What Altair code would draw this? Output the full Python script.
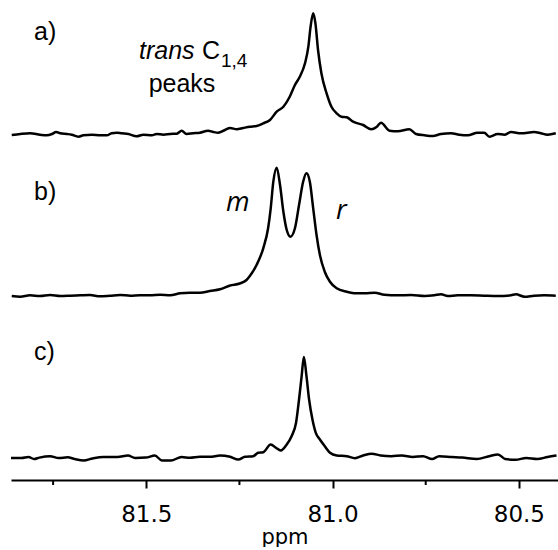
import altair as alt
import pandas as pd

# ---- data (ppm, intensity above baseline, arbitrary units) ----
a_ppm = [81.861, 81.838, 81.812, 81.785, 81.767, 81.753, 81.742, 81.731, 81.713, 81.700,
         81.682, 81.669, 81.646, 81.624, 81.606, 81.593, 81.579, 81.566, 81.548, 81.526,
         81.508, 81.485, 81.472, 81.454, 81.436, 81.418, 81.405, 81.392, 81.374, 81.356,
         81.334, 81.320, 81.307, 81.289, 81.275, 81.257, 81.240, 81.222, 81.204, 81.186,
         81.168, 81.150, 81.132, 81.115, 81.101, 81.088, 81.074, 81.065, 81.059, 81.052,
         81.046, 81.039, 81.030, 81.016, 81.003, 80.989, 80.976, 80.962, 80.945, 80.918,
         80.896, 80.882, 80.870, 80.847, 80.825, 80.794, 80.776, 80.753, 80.731, 80.709,
         80.682, 80.660, 80.637, 80.611, 80.593, 80.579, 80.557, 80.539, 80.521, 80.494,
         80.459, 80.441, 80.423, 80.401]
a_int = [0, 1, 1.7, 0.3, -0.3, 1, 3, 1.7, 1, 0.3,
         -1.7, -0.3, 0.3, -0.3, -0.3, 1.7, 2.3, 1.7, 1, -1.3,
         0.3, -0.3, 1, 0.3, 1, 1.3, 4.3, 1, 1.7, 2.3,
         4.3, 3, 2.3, 5, 7, 5.7, 7, 8.3, 9, 11.7,
         15, 23.3, 28.3, 38.3, 50, 58.3, 71.7, 88.3, 108.3, 121.7,
         111.7, 85, 61.7, 41.7, 28.3, 21.7, 18.3, 17.7, 13.3, 10,
         5.7, 8, 12.3, 4.3, 3.7, 5.7, 1, -0.3, -1, 1,
         1.7, 0.3, -0.3, 2.3, 2.3, -1.7, 1, 0.3, 3, 1.7,
         3, 1.7, 0.3, 1.7]

b_ppm = [81.861, 81.838, 81.812, 81.785, 81.758, 81.731, 81.704, 81.677, 81.651, 81.624,
         81.597, 81.570, 81.543, 81.517, 81.490, 81.463, 81.436, 81.409, 81.383, 81.356,
         81.329, 81.302, 81.275, 81.249, 81.231, 81.222, 81.204, 81.186, 81.173, 81.166,
         81.159, 81.150, 81.141, 81.132, 81.123, 81.113, 81.101, 81.090, 81.079, 81.070,
         81.061, 81.052, 81.043, 81.034, 81.021, 81.007, 80.989, 80.962, 80.936, 80.914,
         80.887, 80.861, 80.825, 80.789, 80.753, 80.727, 80.709, 80.691, 80.664, 80.628,
         80.593, 80.557, 80.521, 80.508, 80.485, 80.459, 80.432, 80.401]
b_int = [0, -0.7, 0.7, 0, 1, 0, 0.3, 0.7, 1, -0.3,
         0.3, 1, 0.3, 0.7, 0.7, 1.3, 0.8, 2.7, 3.3, 3.3,
         5, 6.7, 10.5, 12.5, 16, 20, 31, 47.7, 67.7, 87.7,
         114.3, 128.3, 111, 84.3, 66, 59.3, 67.7, 91, 114.3, 122.7,
         114.3, 87.7, 61, 41, 24.3, 14.3, 7.7, 4.3, 2.7, 2.7,
         3.3, 1.3, 0.7, 1, 0, 0.7, 1.7, 0, 0.7, 0.7,
         0.3, 0, 0.7, 1.7, -0.7, 0.3, 0.7, 0.3]

c_ppm = [81.863, 81.835, 81.816, 81.801, 81.787, 81.758, 81.735, 81.711, 81.692, 81.668,
         81.644, 81.615, 81.577, 81.549, 81.530, 81.501, 81.477, 81.458, 81.434, 81.405,
         81.383, 81.356, 81.329, 81.302, 81.275, 81.253, 81.235, 81.213, 81.200, 81.186,
         81.166, 81.152, 81.139, 81.123, 81.110, 81.098, 81.090, 81.083, 81.077, 81.070,
         81.063, 81.054, 81.045, 81.034, 81.021, 81.007, 80.989, 80.962, 80.940, 80.918,
         80.895, 80.871, 80.842, 80.814, 80.785, 80.757, 80.733, 80.714, 80.680, 80.652,
         80.613, 80.580, 80.556, 80.537, 80.509, 80.480, 80.451, 80.423, 80.399]
c_int = [0, 0, 1, -1, 0.4, 1.8, 0, 0.7, -1, -2.5,
         -0.4, 1, 1, 2.5, 0, 0.4, 2.5, -2.5, -2.5, 1,
         0.2, 1.2, 1.2, 2.5, 1.2, -1.5, 1.2, 1.8, 5.2, 5.8,
         13.5, 10.2, 7.5, 13.5, 21.8, 35.2, 58.5, 81.8, 101, 81.8,
         58.5, 38.5, 25.2, 18.5, 11.8, 5.2, 2.5, 1.8, -0.2, 2.5,
         4.3, 2.5, 1.8, 2.5, 1, 1.8, -1, 1.8, 1, 0.4,
         -1, 1.8, 3.6, -1, -1.8, 0, -1, 1, 2.5]

panel_labels = ["a)", "b)", "c)"]
major_ticks = [81.5, 81.0, 80.5]
minor_ticks = [81.75, 81.25, 80.75]
annot_word = ["trans"]
annot_nucleus = ["C"]
annot_sub = ["1,4"]
annot_line2 = ["peaks"]
tacticity = ["m", "r"]

# ---- layout ----
W, H = 547, 160
X_DOMAIN = [80.395, 81.863]
xscale = alt.Scale(domain=X_DOMAIN, reverse=True, nice=False, zero=False)


def txt(values, x, y, size, font="Liberation Sans", style="normal", align="left"):
    return alt.Chart(pd.DataFrame({"t": values})).mark_text(
        font=font, fontSize=size, fontStyle=style, align=align,
        baseline="alphabetic", color="black"
    ).encode(x=alt.value(x), y=alt.value(y), text="t:N")


def panel(ppm, inten, label, ydom, show_axis, extra):
    df = pd.DataFrame({"ppm": ppm, "intensity": inten})
    if show_axis:
        xenc = alt.X("ppm:Q", scale=xscale, title="ppm",
                     axis=alt.Axis(values=major_ticks, format=".1f", labelFlush=False))
    else:
        xenc = alt.X("ppm:Q", scale=xscale, axis=None)
    line = alt.Chart(df).mark_line(
        color="black", strokeWidth=2.5, interpolate="monotone", clip=True
    ).encode(
        x=xenc,
        y=alt.Y("intensity:Q", scale=alt.Scale(domain=ydom, nice=False, zero=False), axis=None),
    )
    layers = [line, txt([label], 23, 40, 25)] + extra
    return alt.layer(*layers).properties(width=W, height=H)


minor = alt.Chart(pd.DataFrame({"ppm": minor_ticks})).mark_rule(
    color="black", strokeWidth=2
).encode(x=alt.X("ppm:Q", scale=xscale), y=alt.value(H), y2=alt.value(H + 5))

pa = panel(a_ppm, a_int, panel_labels[0], [-25, 135], False, [
    txt(annot_word, 128, 59, 25, style="italic"),
    txt(annot_nucleus, 191, 59, 25),
    txt(annot_sub, 210, 67, 19),
    txt(annot_line2, 171, 92, 25, align="center"),
])
pb = panel(b_ppm, b_int, panel_labels[1], [-24, 136], False, [
    txt([tacticity[0]], 215, 51, 27, font="Open Sans", style="italic"),
    txt([tacticity[1]], 325, 59, 27, font="Open Sans", style="italic"),
])
pc = panel(c_ppm, c_int, panel_labels[2], [-22, 138], True, [minor])

chart = alt.vconcat(pa, pb, pc, spacing=0).properties(
    padding={"left": 11, "top": 0, "right": 0, "bottom": 0},
    background="white",
).configure_view(stroke=None).configure_axis(
    domainColor="black", domainWidth=2, tickColor="black", tickWidth=2, tickSize=8,
    labelFont="DejaVu Sans", labelFontSize=23, labelColor="black", labelPadding=15,
    titleFont="DejaVu Sans", titleFontSize=21, titleFontWeight="normal", titleColor="black",
    titlePadding=0, grid=False,
)

chart.save("out.html", embed_options={"renderer": "svg", "actions": False})
